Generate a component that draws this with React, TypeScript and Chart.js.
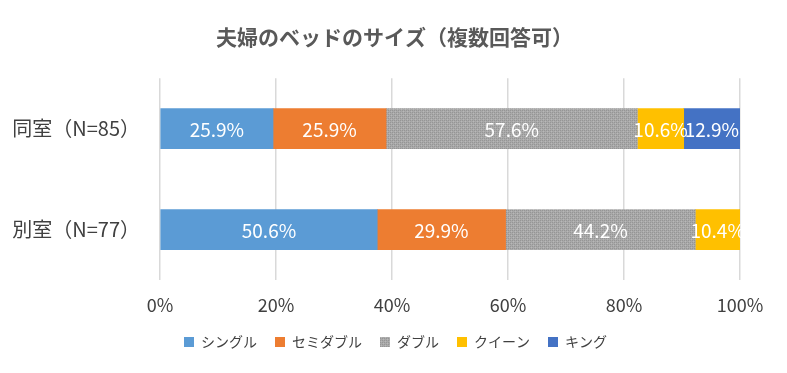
import React, { useEffect, useRef } from "react";
import { Chart, registerables } from "chart.js";

Chart.register(...registerables);

const titleText = "夫婦のベッドのサイズ（複数回答可）";
const categories = ["同室（N=85）", "別室（N=77）"];
const seriesNames = ["シングル", "セミダブル", "ダブル", "クイーン", "キング"];
const single = [25.9, 50.6];
const semiDouble = [25.9, 29.9];
const doubleBed = [57.6, 44.2];
const queen = [10.6, 10.4];
const king = [12.9, 0];
const xTicks = [0, 20, 40, 60, 80, 100];

const FONT = "'Noto Sans CJK JP', 'Noto Sans', sans-serif";

function makeGrayPattern(): CanvasPattern | string {
  const c = document.createElement("canvas");
  c.width = 4;
  c.height = 4;
  const g = c.getContext("2d");
  if (!g) return "#a5a5a5";
  g.fillStyle = "#a9a9a9";
  g.fillRect(0, 0, 4, 4);
  g.fillStyle = "#959595";
  g.fillRect(0, 0, 1, 1);
  g.fillRect(2, 2, 1, 1);
  g.fillRect(2, 0, 1, 1);
  g.fillRect(0, 2, 1, 1);
  g.fillStyle = "#b8b8b8";
  g.fillRect(1, 1, 1, 1);
  g.fillRect(3, 3, 1, 1);
  const p = g.createPattern(c, "repeat");
  return p || "#a5a5a5";
}

const labelPlugin = {
  id: "valueLabels",
  afterLayout(chart: any) {
    // shift the centred title / legend boxes to match the reference
    if (chart.titleBlock) chart.titleBlock.left += 49;
    if (chart.legend) chart.legend.left += 51;
  },
  afterDatasetsDraw(chart: any) {
    const ctx = chart.ctx;
    ctx.save();
    ctx.font = `19px ${FONT}`;
    ctx.fillStyle = "#ffffff";
    ctx.textAlign = "center";
    ctx.textBaseline = "middle";
    chart.data.datasets.forEach((ds: any, i: number) => {
      const meta = chart.getDatasetMeta(i);
      meta.data.forEach((el: any, j: number) => {
        const raw = ds.rawValues[j];
        if (!raw) return;
        const { x, base, y } = el.getProps(["x", "base", "y"], true);
        ctx.fillText(raw.toFixed(1) + "%", (x + base) / 2, y + 1);
      });
    });
    ctx.restore();
  },
};

export default function App() {
  const ref = useRef<HTMLCanvasElement>(null);
  useEffect(() => {
    if (!ref.current) return;
    const series = [single, semiDouble, doubleBed, queen, king];
    const totals = categories.map((_, j) => series.reduce((s, arr) => s + arr[j], 0));
    const colors: any[] = ["#5B9BD5", "#ED7D31", makeGrayPattern(), "#FFC000", "#4472C4"];
    const chart = new Chart(ref.current, {
      type: "bar",
      data: {
        labels: categories,
        datasets: series.map((arr, i) => ({
          label: seriesNames[i],
          data: arr.map((v, j) => (v / totals[j]) * 100),
          rawValues: arr,
          backgroundColor: colors[i],
          borderWidth: 0,
          barThickness: 40,
        })) as any,
      },
      options: {
        indexAxis: "y",
        animation: false,
        responsive: false,
        layout: { padding: { left: 0, right: 47, top: 0, bottom: 14 } },
        scales: {
          x: {
            stacked: true,
            min: 0,
            max: 100,
            afterBuildTicks: (axis: any) => {
              axis.ticks = xTicks.map((v) => ({ value: v }));
            },
            ticks: {
              callback: (v: any) => v + "%",
              color: "#404040",
              font: { family: FONT, size: 18 },
              padding: 14,
            },
            grid: { color: "#d9d9d9", lineWidth: 1.5, drawTicks: false },
            border: { display: false },
            afterFit: (axis: any) => {
              axis.height = 37;
            },
          },
          y: {
            stacked: true,
            ticks: {
              color: "#404040",
              font: { family: FONT, size: 20 },
              padding: 12,
            },
            grid: { display: false },
            border: { display: false },
            afterFit: (axis: any) => {
              axis.width = 160;
            },
          },
        } as any,
        plugins: {
          title: {
            display: true,
            text: titleText,
            color: "#595959",
            font: { family: FONT, size: 21, weight: "bold" },
            padding: { top: 24, bottom: 29 },
          },
          legend: {
            position: "bottom",
            labels: {
              boxWidth: 10,
              boxHeight: 10,
              color: "#404040",
              font: { family: FONT, size: 14 },
              padding: 18,
            },
          },
          tooltip: { enabled: false },
        },
      },
      plugins: [labelPlugin],
    });
    return () => chart.destroy();
  }, []);
  return (
    <div style={{ position: "absolute", left: 0, top: 0, width: 787, height: 373, background: "#fff" }}>
      <canvas ref={ref} width={787} height={373} style={{ width: 787, height: 373 }} />
    </div>
  );
}
